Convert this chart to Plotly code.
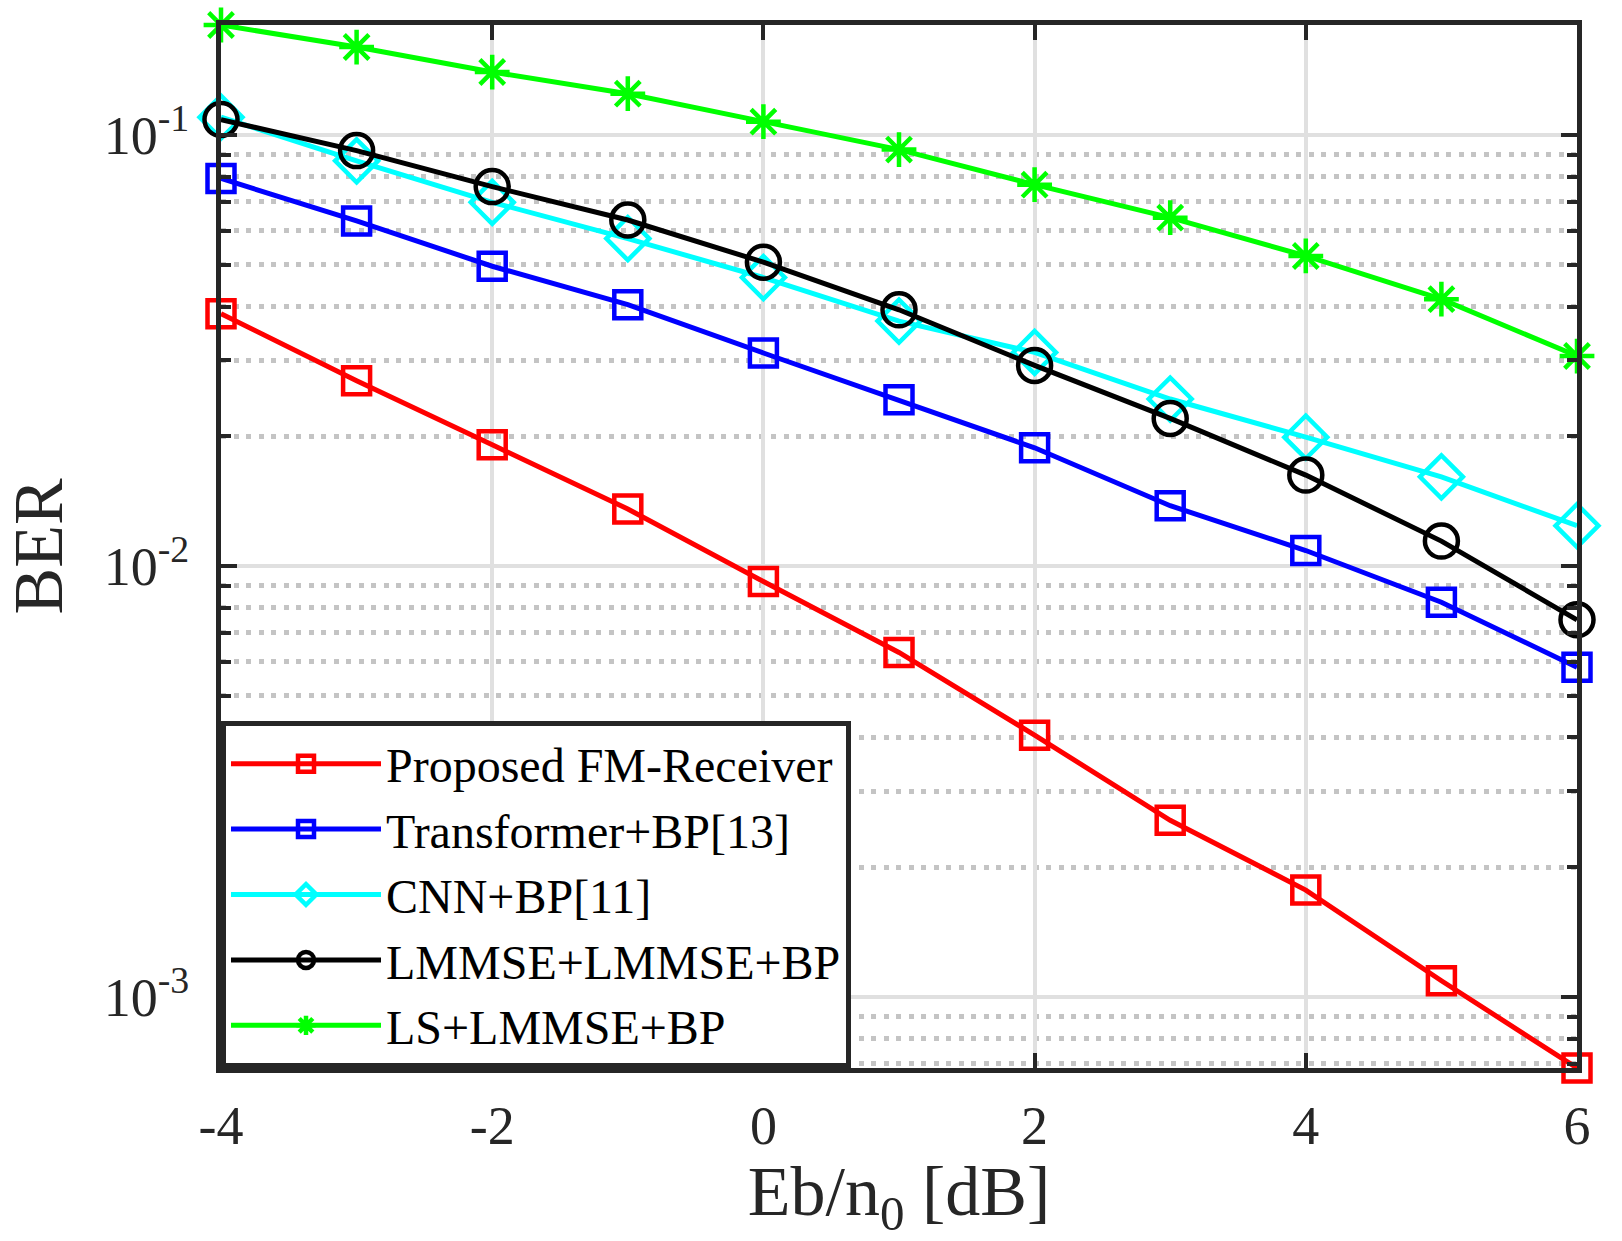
import numpy as np
import plotly.graph_objects as go

snr = [-4, -3, -2, -1, 0, 1, 2, 3, 4, 5, 6]

ber_proposed = [0.0385, 0.0269, 0.0191, 0.01356, 0.0092, 0.0063, 0.00405, 0.00257, 0.00177, 0.00109, 0.000684]
ber_transformer = [0.0793, 0.0632, 0.0496, 0.0404, 0.0312, 0.0243, 0.0188, 0.0138, 0.01086, 0.00824, 0.00582]
ber_cnn = [0.110, 0.0871, 0.0698, 0.0575, 0.0467, 0.0370, 0.0313, 0.0244, 0.0199, 0.0161, 0.0124]
ber_lmmse = [0.1086, 0.0920, 0.0759, 0.0635, 0.0507, 0.0393, 0.0292, 0.0220, 0.01625, 0.01142, 0.0075]
ber_ls = [0.180, 0.160, 0.140, 0.1247, 0.1074, 0.0925, 0.0767, 0.0643, 0.0524, 0.0416, 0.0307]

names = ["Proposed FM-Receiver", "Transformer+BP[13]", "CNN+BP[11]", "LMMSE+LMMSE+BP", "LS+LMMSE+BP"]

x_tickvals = [-4, -2, 0, 2, 4, 6]
x_ticktext = ["-4", "-2", "0", "2", "4", "6"]
y_tickvals = [1e-3, 1e-2, 1e-1]
y_ticktext = ["10<sup>-3</sup>", "10<sup>-2</sup>", "10<sup>-1</sup>"]
y_minor = [m * 10.0 ** e for e in (-4, -3, -2, -1) for m in range(2, 10)]

series = [ber_proposed, ber_transformer, ber_cnn, ber_lmmse, ber_ls]
colors = ["#FF0000", "#0000FF", "#00FFFF", "#000000", "#00FF00"]
symbols = ["square-open", "square-open", "diamond-open", "circle-open", "asterisk-open"]
sizes = [27, 27, 33, 33, 29]

fig = go.Figure()
for i, (name, ys) in enumerate(zip(names, series)):
    fig.add_trace(go.Scatter(
        x=snr, y=ys, name=name, mode="lines+markers",
        line=dict(color=colors[i], width=5),
        marker=dict(symbol=symbols[i], size=sizes[i], color=colors[i],
                    line=dict(color=colors[i], width=4.5)),
        cliponaxis=False,
    ))

allv = np.concatenate([np.array(s) for s in series])
yrange = [np.log10(allv.min()), np.log10(allv.max())]

axis_color = "#262626"
font_family = "Liberation Serif, Times New Roman, serif"

fig.update_layout(
    width=1622, height=1241,
    margin=dict(l=221, r=45, t=25, b=173),
    paper_bgcolor="white", plot_bgcolor="white",
    font=dict(family=font_family, color=axis_color),
    showlegend=True,
    legend=dict(
        x=0.0, y=0.0, xanchor="left", yanchor="bottom",
        bgcolor="white", bordercolor=axis_color, borderwidth=5,
        font=dict(family=font_family, size=48, color="#000000"),
        itemwidth=150, traceorder="normal",
    ),
)

fig.update_xaxes(
    range=[-4, 6], tickmode="array", tickvals=x_tickvals, ticktext=x_ticktext,
    showline=True, linecolor=axis_color, linewidth=5, mirror="ticks",
    ticks="inside", ticklen=15, tickwidth=4, tickcolor=axis_color,
    showgrid=True, gridcolor="#E0E0E0", gridwidth=4,
    zeroline=False, automargin=False,
    tickfont=dict(family=font_family, size=54, color=axis_color),
    ticklabelstandoff=6,
    title=dict(text="Eb/n<sub>0</sub> [dB]", font=dict(family=font_family, size=70, color=axis_color), standoff=32),
)

fig.update_yaxes(
    type="log", range=yrange, tickmode="array", tickvals=y_tickvals, ticktext=y_ticktext,
    showline=True, linecolor=axis_color, linewidth=5, mirror="ticks",
    ticks="inside", ticklen=16, tickwidth=4, tickcolor=axis_color,
    showgrid=True, gridcolor="#E0E0E0", gridwidth=4,
    zeroline=False, automargin=False,
    tickfont=dict(family=font_family, size=54, color=axis_color),
    ticklabelstandoff=16,
    minor=dict(tickmode="array", tickvals=y_minor, ticks="inside", ticklen=10, tickwidth=4,
               tickcolor=axis_color, showgrid=True, gridcolor="#C4C4C4", gridwidth=4.5,
               griddash="5px,7.5px"),
    title=dict(text="BER", font=dict(family=font_family, size=70, color=axis_color), standoff=24),
)

fig.write_html("out.html")
